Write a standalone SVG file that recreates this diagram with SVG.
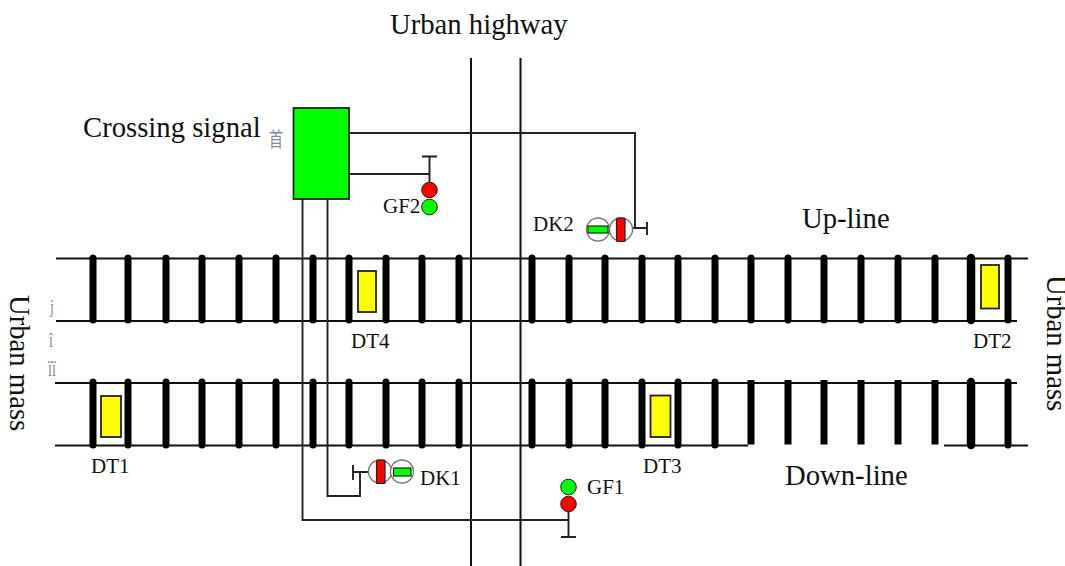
<svg xmlns="http://www.w3.org/2000/svg" width="1065" height="566" viewBox="0 0 1065 566">
<style>
text{font-family:"Liberation Serif","Times New Roman",serif;fill:#111}
.l{font-size:28.700px}
.m{font-size:21px}
.g{font-size:14px;fill:#7f8a99}
.w{fill:none;stroke:#222;stroke-width:1.9}
.r{fill:none;stroke:#111;stroke-width:2}
.t{stroke:#000;stroke-linecap:round;fill:none}
.y{fill:#ff0;stroke:#222;stroke-width:1.8}
.rl{fill:#f00;stroke:#222;stroke-width:1}
.gl{fill:#0f0;stroke:#222;stroke-width:1}
.o{fill:#fff;stroke:#777;stroke-width:1.4}
.rb{fill:#f00;stroke:#222;stroke-width:1.2}
.gb{fill:#0f0;stroke:#222;stroke-width:1.2}
</style>
<rect width="1065" height="566" fill="#fff"/>
<g id="tracks">
<path class="r" d="M56 258.500H1028M56 321H1017M55 383H1017M55 445.500H748M944 445.500H1028"/>
<path class="t" stroke-width="7" d="M93 258V320M128 258V320M166 258V320M202 258V320M239 258V320M276 258V320M313 258V320M349 258V320M386 258V320M422 258V320M459 258V320M532 258V320M569 258V320M605 258V320M642 258V320M678 258V320M715 258V320M751 258V320M788 258V320M824 258V320M861 258V320M898 258V320M935 258V320M1008 258V320"/>
<path class="t" stroke-width="8.500" d="M971 258V320"/>
<path class="t" stroke-width="7" d="M93 382V445M128 382V445M166 382V445M202 382V445M239 382V445M276 382V445M313 382V445M349 382V445M386 382V445M422 382V445M459 382V445M532 382V445M569 382V445M605 382V445M642 382V445M678 382V445M715 382V445M1008 382V445"/>
<path class="t" stroke-width="8.500" d="M971 382V445"/>
<path stroke="#000" stroke-width="7" stroke-linecap="butt" d="M751 380V444.500M788 380V444.500M824 380V444.500M861 380V444.500M898 380V444.500M935 380V444.500"/>
</g>
<g id="road">
<path class="r" d="M471 58V566M520.500 58V566"/>
</g>
<g id="connectors">
<path class="w" d="M349 133H635V228M349 174H429.500M302.500 199V520H568.500M327.500 199V496H360V472"/>
</g>
<g id="crossing-signal">
<rect x="293.500" y="108" width="55.500" height="91" fill="#0f0" stroke="#222" stroke-width="1.8"/>
<text class="l" x="83" y="136.500">Crossing signal</text>
<text class="g" transform="translate(269 147) scale(1 1.450)" style="font-family:'Noto Sans CJK SC',sans-serif">首</text>
</g>
<g id="GF2">
<path class="w" d="M429.500 156.500V183M422 156.500H437"/>
<circle class="rl" cx="429.500" cy="190" r="7.800"/>
<circle class="gl" cx="429.500" cy="207" r="7.800"/>
<text class="m" x="383" y="213">GF2</text>
</g>
<g id="DK2">
<path class="w" d="M632 228H647M647 222V235"/>
<circle class="o" cx="598" cy="229.500" r="11.500"/>
<rect class="gb" x="588" y="226" width="20" height="7"/>
<circle class="o" cx="621" cy="229.500" r="11.500"/>
<rect class="rb" x="616.500" y="218" width="8.500" height="23.500" rx="1"/>
<text class="m" x="533" y="231">DK2</text>
</g>
<g id="DK1">
<path class="w" d="M353 472H369M353 465V480"/>
<circle class="o" cx="380" cy="471.500" r="11.500"/>
<rect class="rb" x="376.500" y="460" width="8.500" height="23.500" rx="1"/>
<circle class="o" cx="402" cy="471.500" r="11.500"/>
<rect class="gb" x="393.500" y="468" width="17.500" height="8"/>
<text class="m" x="420" y="485">DK1</text>
</g>
<g id="GF1">
<path class="w" d="M568.500 510V537M561 537H576"/>
<circle class="gl" cx="568.500" cy="487" r="7.800"/>
<circle class="rl" cx="568.500" cy="504" r="7.800"/>
<text class="m" x="587" y="494">GF1</text>
</g>
<g id="DT1"><rect class="y" x="101" y="396" width="20" height="41"/><text class="m" x="91" y="473">DT1</text></g>
<g id="DT2"><rect class="y" x="981" y="265" width="18" height="43.500"/><text class="m" x="973" y="348">DT2</text></g>
<g id="DT3"><rect class="y" x="650.500" y="395.500" width="20" height="41.500"/><text class="m" x="643" y="473">DT3</text></g>
<g id="DT4"><rect class="y" x="358" y="271" width="18" height="41"/><text class="m" x="351" y="348">DT4</text></g>
<g id="labels">
<text class="l" x="390" y="33.500">Urban highway</text>
<text class="l" x="802" y="228">Up-line</text>
<text class="l" x="785" y="485">Down-line</text>
<text class="l" transform="translate(10 295) rotate(90)">Urban mass</text>
<text class="l" transform="translate(1047 275) rotate(90)">Urban mass</text>
<text class="g" transform="translate(50 313) scale(1 1.400)">j</text>
<text class="g" transform="translate(49 347) scale(1 1.500)">î</text>
<text class="g" transform="translate(48 376) scale(1 1.700)">ïï</text>
</g>
</svg>
